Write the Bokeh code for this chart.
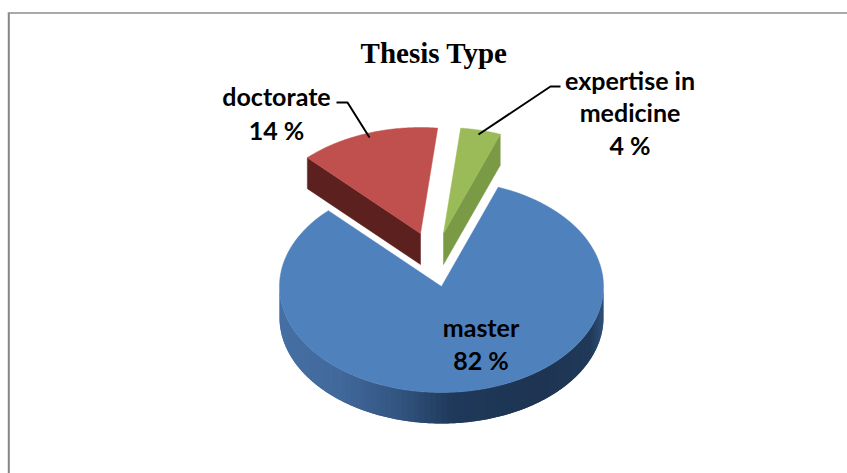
import numpy as np
from bokeh.plotting import figure
from bokeh.embed import file_html
from bokeh.resources import INLINE
from bokeh.core.properties import value

# data
categories = ["master", "doctorate", "expertise in medicine"]
shares = [82, 14, 4]
label_lines = [["master", "82 %"], ["doctorate", "14 %"], ["expertise in", "medicine", "4 %"]]
title_text = "Thesis Type"

# styles / layout (page pixels)
top_colors = ["#4f81bd", "#c0504d", "#9bbb59"]
side_colors = [None, "#5c201e", "#7b9a46"]
face_at_end = [False, False, True]
apex = [(441, 286), (420, 233), (443, 233)]
RX, RY, DEPTH = 162, 106, 31
START = 20.5
label_pos = [(480.5, [326, 359]), (276, [95, 129]), (629.5, [79, 111, 144])]
rim_stops_x = [279, 340, 400, 450, 540, 590, 604]
rim_stops_rgb = [(70, 112, 165), (66, 105, 155), (50, 85, 128), (32, 58, 92), (30, 52, 82), (33, 58, 90), (48, 82, 125)]

p = figure(width=847, height=473, x_range=(0, 847), y_range=(473, 0),
           output_backend="svg", toolbar_location=None, min_border=0,
           outline_line_color=None, background_fill_color="white", border_fill_color="white")
p.axis.visible = False
p.grid.visible = False

def pts(c, a0, a1, n=120):
    a = np.radians(np.linspace(a0, a1, n))
    return c[0] + RX * np.sin(a), c[1] - RY * np.cos(a)

# frame
p.line([8.3, 8.3], [473, 12.5], line_color="#868686", line_width=2)
p.line([7.3, 847], [12.5, 12.5], line_color="#8c8c8c", line_width=1.3)

# sweep of every slice from the data
sweeps = np.array(shares) / sum(shares) * 360
starts = START + np.concatenate([[0], np.cumsum(sweeps)[:-1]])

# blue rim: overlapping strips shaded along x
a_edges = np.linspace(90, 270, 91)
for a0, a1 in zip(a_edges[:-1], a_edges[1:]):
    x, y = pts(apex[0], a0, min(a1 + 2, 270), 6)
    xm = (apex[0][0] + RX * np.sin(np.radians((a0 + a1) / 2)))
    rgb = [int(np.interp(xm, rim_stops_x, [s[i] for s in rim_stops_rgb])) for i in range(3)]
    col = "#%02x%02x%02x" % tuple(rgb)
    p.patch(list(x) + list(x[::-1]), list(y) + list((y + DEPTH)[::-1]), fill_color=col, line_color=None)

# slices
for i, (s, w) in enumerate(zip(starts, sweeps)):
    c = apex[i]
    x, y = pts(c, s, s + w)
    if side_colors[i]:
        # exposed cut face
        ex, ey = pts(c, s + w if face_at_end[i] else s, s, 1)
        p.patch([ex[0], c[0], c[0], ex[0]], [ey[0], c[1], c[1] + DEPTH, ey[0] + DEPTH],
                fill_color=side_colors[i], line_color=side_colors[i], line_width=0.5)
    p.patch([c[0]] + list(x), [c[1]] + list(y), fill_color=top_colors[i],
            line_color=top_colors[i], line_width=0.5)

# leaders
p.line([336, 347, 369], [102, 102, 137], line_color="black", line_width=2)
p.line([560, 550, 478], [86, 86, 134], line_color="black", line_width=2)

# texts
for (lx, lys), lines in zip(label_pos, label_lines):
    p.text([lx] * len(lines), lys, text=lines, text_font=value("Lato"), text_font_style="bold",
           text_font_size="25px", text_align="center", text_baseline="middle", text_color="black")
p.text([433.5], [52], text=[title_text], text_font=value("Liberation Serif"), text_font_style="bold",
       text_font_size="29px", text_align="center", text_baseline="middle", text_color="black")

open("out.html", "w").write(file_html(p, INLINE))
